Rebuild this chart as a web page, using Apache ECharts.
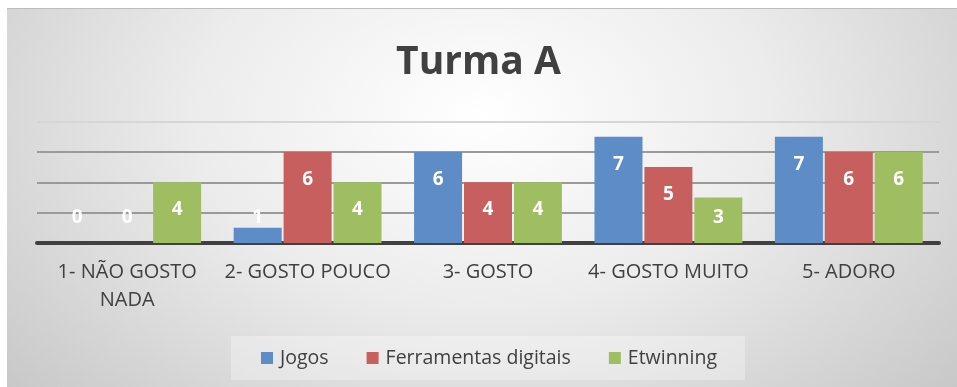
<!DOCTYPE html>
<html>
<head>
<meta charset="utf-8">
<script src="https://cdn.jsdelivr.net/npm/echarts@6/dist/echarts.min.js"></script>
<style>
  html, body { margin: 0; padding: 0; background: #ffffff; }
  #wrap { position: relative; width: 957px; height: 387px; overflow: hidden; }
  #bg {
    position: absolute; left: 7px; top: 8px; right: 0; bottom: 0;
    border-top: 1px solid #bdbdbd;
    background: radial-gradient(ellipse 72% 120% at 50% 28%, #ffffff 0%, #ececec 42%, #d4d4d4 75%, #c2c2c2 100%);
  }
  #chart { position: absolute; left: 0; top: 0; width: 957px; height: 387px; }
</style>
</head>
<body>
<div id="wrap">
  <div id="bg"></div>
  <div id="chart"></div>
</div>
<script>
// Survey answers per class, grouped by how much students like each activity
const categories = ['1- NÃO GOSTO\nNADA', '2- GOSTO POUCO', '3- GOSTO', '4- GOSTO MUITO', '5- ADORO'];
const jogos = [0, 1, 6, 7, 7];
const ferramentas = [0, 6, 4, 5, 6];
const etwinning = [4, 4, 4, 3, 6];
const seriesNames = ['Jogos', 'Ferramentas digitais', 'Etwinning'];
const colors = ['#5d8cc6', '#c65f5d', '#9fbe61'];

const chart = echarts.init(document.getElementById('chart'), null, { renderer: 'canvas' });

const font = '"Open Sans", "DejaVu Sans", sans-serif';

function barSeries(name, data, color) {
  return {
    name: name,
    type: 'bar',
    data: data,
    barWidth: 48,
    barGap: '4%',
    itemStyle: { color: color },
    label: {
      show: true,
      position: 'insideTop',
      distance: 18,
      color: '#ffffff',
      fontFamily: font,
      fontWeight: 'bold',
      fontSize: 19
    },
    // keep value labels of short bars from dropping below the axis
    labelLayout: function (p) {
      const base = p.rect.y + p.rect.height;
      const cy = Math.min(p.labelRect.y + p.labelRect.height / 2, base - 25);
      return { x: p.rect.x + p.rect.width / 2, y: cy, align: 'center', verticalAlign: 'middle' };
    }
  };
}

chart.setOption({
  backgroundColor: 'transparent',
  animation: false,
  color: colors,
  title: {
    text: 'Turma A',
    left: 'center',
    top: 38,
    textStyle: { fontFamily: font, fontWeight: 'bold', fontSize: 39, color: '#404040' }
  },
  legend: {
    bottom: 7,
    left: 231,
    itemWidth: 12,
    itemHeight: 12,
    itemGap: 38,
    icon: 'rect',
    padding: [12, 28, 12, 30],
    backgroundColor: 'rgba(255,255,255,0.3)',
    textStyle: { fontFamily: font, fontSize: 19.5, color: '#404040', padding: [0, 0, 0, 2] },
    data: seriesNames
  },
  grid: { left: 37, right: 18, top: 121.5, bottom: 144, containLabel: false },
  xAxis: {
    type: 'category',
    data: categories,
    axisLine: { show: true, lineStyle: { color: '#404040', width: 4 } },
    axisTick: { show: false },
    axisLabel: {
      fontFamily: font, fontSize: 20, color: '#404040',
      lineHeight: 28, margin: 15, interval: 0
    }
  },
  yAxis: {
    type: 'value',
    min: 0,
    max: 8,
    interval: 2,
    axisLabel: { show: false },
    axisLine: { show: false },
    axisTick: { show: false },
    splitLine: { lineStyle: { color: ['#8c8c8c', '#9a9a9a', '#9a9a9a', '#9a9a9a', '#d6d6d6'], width: 2 } }
  },
  series: [
    barSeries(seriesNames[0], jogos, colors[0]),
    barSeries(seriesNames[1], ferramentas, colors[1]),
    barSeries(seriesNames[2], etwinning, colors[2])
  ]
});
</script>
</body>
</html>
